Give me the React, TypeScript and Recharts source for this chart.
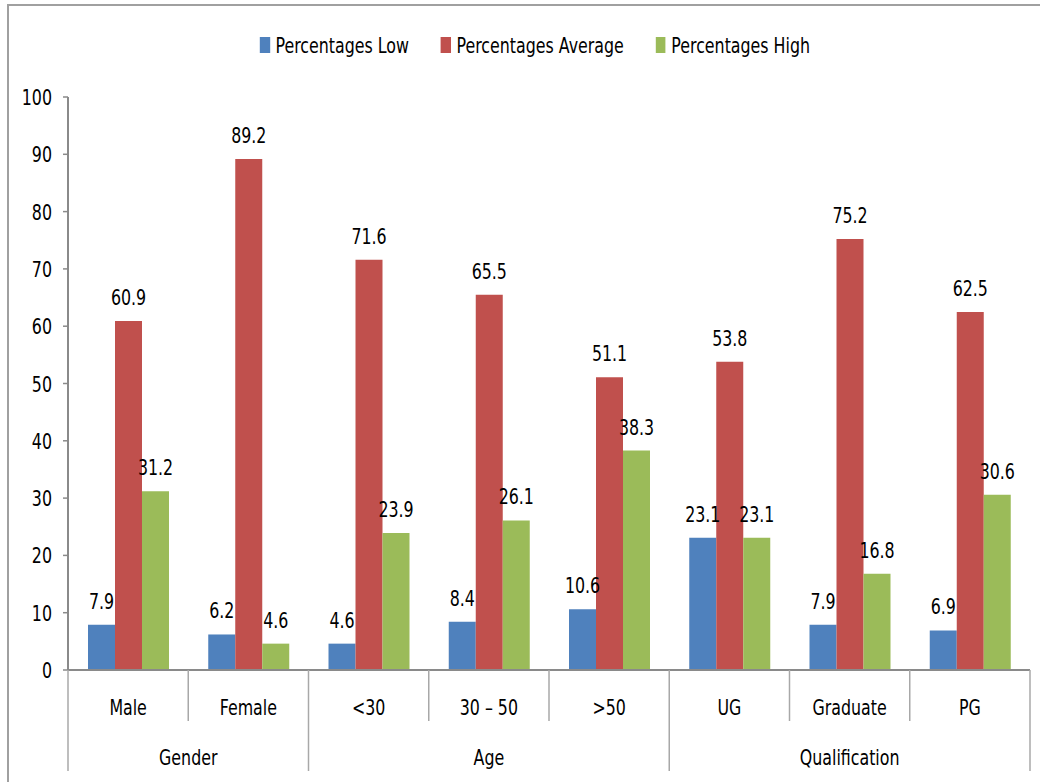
import { BarChart, Bar, XAxis, YAxis, Legend, LabelList } from 'recharts';

const categories = ['Male', 'Female', '<30', '30 – 50', '>50', 'UG', 'Graduate', 'PG'];
const lowValues = [7.9, 6.2, 4.6, 8.4, 10.6, 23.1, 7.9, 6.9];
const averageValues = [60.9, 89.2, 71.6, 65.5, 51.1, 53.8, 75.2, 62.5];
const highValues = [31.2, 4.6, 23.9, 26.1, 38.3, 23.1, 16.8, 30.6];
const groupNames = ['Gender', 'Age', 'Qualification'];
const groupSizes = [2, 3, 3];
const yTicks = [0, 10, 20, 30, 40, 50, 60, 70, 80, 90, 100];

const seriesKeys = ['low', 'average', 'high'];
const seriesNames = ['Percentages Low', 'Percentages Average', 'Percentages High'];
const seriesColors = ['#4F81BD', '#C0504D', '#9BBB59'];

const data = categories.map((name, i) => ({
  name,
  low: lowValues[i],
  average: averageValues[i],
  high: highValues[i],
}));

const WIDTH = 1040;
const HEIGHT = 782;
const MARGIN = { top: 67, right: 10, bottom: 0, left: 8 };
const Y_AXIS_WIDTH = 60;
const X_AXIS_HEIGHT = 112;
const AXIS_Y = HEIGHT - MARGIN.bottom - X_AXIS_HEIGHT;
const BAND = (WIDTH - MARGIN.right - MARGIN.left - Y_AXIS_WIDTH) / categories.length;
const AXIS_COLOR = '#8a8a8a';
const SEP_COLOR = '#a8a8a8';
const FONT = '"DejaVu Sans Condensed", "Liberation Sans", sans-serif';
const FONT_SIZE = 22;
const SX = 0.8; // squeeze text horizontally, the original uses a narrow font

const groupStarts = groupSizes.map((_, g) => groupSizes.slice(0, g).reduce((a, b) => a + b, 0));

// y is the baseline
function NarrowText({ x, y, anchor = 'middle', children }: any) {
  return (
    <text transform={`translate(${x},${y}) scale(${SX},1)`} textAnchor={anchor} fontSize={FONT_SIZE} fill="#000">
      {children}
    </text>
  );
}

function CategoryTick(props: any) {
  const { x, index, payload } = props;
  const left = x - BAND / 2;
  const g = groupStarts.indexOf(index);
  const isLast = index === categories.length - 1;
  return (
    <g>
      <line x1={left} x2={left} y1={AXIS_Y} y2={g >= 0 ? AXIS_Y + 101 : AXIS_Y + 51} stroke={SEP_COLOR} strokeWidth={1.5} />
      {isLast && (
        <line x1={left + BAND} x2={left + BAND} y1={AXIS_Y} y2={AXIS_Y + 101} stroke={SEP_COLOR} strokeWidth={1.5} />
      )}
      <NarrowText x={x} y={AXIS_Y + 45}>{payload.value}</NarrowText>
      {g >= 0 && (
        <NarrowText x={left + (groupSizes[g] * BAND) / 2} y={AXIS_Y + 95}>
          {groupNames[g]}
        </NarrowText>
      )}
    </g>
  );
}

function ValueTick(props: any) {
  const { x, y, payload } = props;
  return (
    <NarrowText x={x} y={y + 8} anchor="end">
      {payload.value}
    </NarrowText>
  );
}

function BarValue(props: any) {
  const { x, y, width, value } = props;
  return <NarrowText x={Number(x) + Number(width) / 2} y={Number(y) - 16}>{value}</NarrowText>;
}

function LegendContent() {
  return (
    <div
      style={{
        display: 'flex',
        justifyContent: 'center',
        gap: 40,
        fontSize: FONT_SIZE,
        height: 30,
        alignItems: 'center',
        transform: `scaleX(${SX})`,
        transformOrigin: 'center',
      }}
    >
      {seriesNames.map((name, i) => (
        <div key={name} style={{ display: 'flex', alignItems: 'center' }}>
          <span style={{ width: 12.5, height: 16, background: seriesColors[i], marginRight: 7, display: 'inline-block' }} />
          <span style={{ color: '#000' }}>{name}</span>
        </div>
      ))}
    </div>
  );
}

export default function App() {
  return (
    <div style={{ position: 'fixed', left: 0, top: 0, width: WIDTH, height: HEIGHT, background: '#fff', fontFamily: FONT }}>
      <div
        style={{
          position: 'absolute',
          left: 7,
          top: 4,
          right: 0,
          bottom: 0,
          borderTop: '2px solid #a0a0a0',
          borderLeft: '2px solid #a0a0a0',
        }}
      />
      <BarChart width={WIDTH} height={HEIGHT} data={data} margin={MARGIN} barCategoryGap={20} barGap={0}>
        <Legend verticalAlign="top" content={<LegendContent />} wrapperStyle={{ top: 30, left: 15, width: WIDTH }} />
        <XAxis
          dataKey="name"
          height={X_AXIS_HEIGHT}
          tickLine={false}
          interval={0}
          axisLine={{ stroke: AXIS_COLOR, strokeWidth: 2 }}
          tick={<CategoryTick />}
        />
        <YAxis
          width={Y_AXIS_WIDTH}
          domain={[0, 100]}
          ticks={yTicks}
          interval={0}
          tickSize={5}
          tickMargin={11}
          axisLine={{ stroke: AXIS_COLOR, strokeWidth: 2 }}
          tickLine={{ stroke: AXIS_COLOR, strokeWidth: 1.5 }}
          tick={<ValueTick />}
        />
        {seriesKeys.map((key, i) => (
          <Bar key={key} dataKey={key} name={seriesNames[i]} fill={seriesColors[i]} isAnimationActive={false}>
            <LabelList dataKey={key} content={<BarValue />} />
          </Bar>
        ))}
      </BarChart>
    </div>
  );
}
